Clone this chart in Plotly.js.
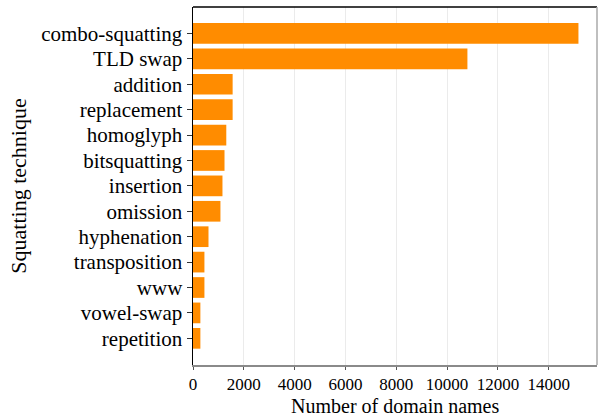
<!DOCTYPE html>
<html>
<head>
<meta charset="utf-8">
<script src="https://cdn.plot.ly/plotly-3.0.1.min.js"></script>
<style>html,body{margin:0;padding:0;background:#fff;}#chart{width:598px;height:418px;}</style>
</head>
<body>
<div id="chart"></div>
<script>
// Categories listed top to bottom as in the chart
const techniques = ["combo-squatting","TLD swap","addition","replacement","homoglyph","bitsquatting","insertion","omission","hyphenation","transposition","www","vowel-swap","repetition"];
const domainCounts = [15170,10800,1560,1560,1310,1240,1160,1080,610,450,450,290,290];
const xTickValues = [0,2000,4000,6000,8000,10000,12000,14000];
const xTitle = 'Number of domain names';
const yTitle = 'Squatting technique';

const yCats = techniques.slice().reverse();
const xVals = domainCounts.slice().reverse();

const font = "Liberation Serif, serif";

const trace = {
  type: 'bar',
  orientation: 'h',
  x: xVals,
  y: yCats,
  marker: {color: '#FF8C00', line: {width: 0}},
  hoverinfo: 'x+y'
};

const layout = {
  width: 598, height: 418,
  margin: {l: 193, r: 1, t: 7, b: 53},
  paper_bgcolor: '#fff', plot_bgcolor: '#fff',
  bargap: 0.185,
  showlegend: false,
  font: {family: font, color: '#000'},
  xaxis: {
    range: [0, 15900],
    tickvals: xTickValues,
    ticktext: xTickValues.map(String),
    showgrid: true, gridcolor: '#ebebeb', gridwidth: 1,
    zeroline: false,
    showline: true, linecolor: '#8a8a8a', linewidth: 1.5,
    ticks: 'outside', ticklen: 3, tickcolor: '#555', tickwidth: 1,
    tickfont: {family: font, size: 17, color: '#000'}
  },
  yaxis: {
    type: 'category',
    range: [-1.05, 13.04],
    showgrid: false, zeroline: false,
    showline: true, linecolor: '#000', linewidth: 1.5,
    ticks: 'outside', ticklen: 5, tickcolor: '#333', tickwidth: 1,
    tickfont: {family: font, size: 21, color: '#000'},
    title: {text: yTitle, font: {family: font, size: 22, color: '#000'}, standoff: 8}
  },
  annotations: [
    {text: xTitle, xref: 'paper', yref: 'paper', x: 0.5, y: 0, xanchor: 'center', yanchor: 'middle',
     yshift: -41, showarrow: false, font: {family: font, size: 20, color: '#000'}}
  ],
  shapes: [
    {type: 'line', xref: 'paper', yref: 'paper', x0: 0, x1: 1, y0: 1, y1: 1, line: {color: '#000', width: 1.5}},
    {type: 'line', xref: 'paper', yref: 'paper', x0: 1, x1: 1, y0: 0, y1: 1, line: {color: '#aaa', width: 1.5}}
  ]
};

Plotly.newPlot('chart', [trace], layout, {displayModeBar: false, staticPlot: true});
</script>
</body>
</html>
